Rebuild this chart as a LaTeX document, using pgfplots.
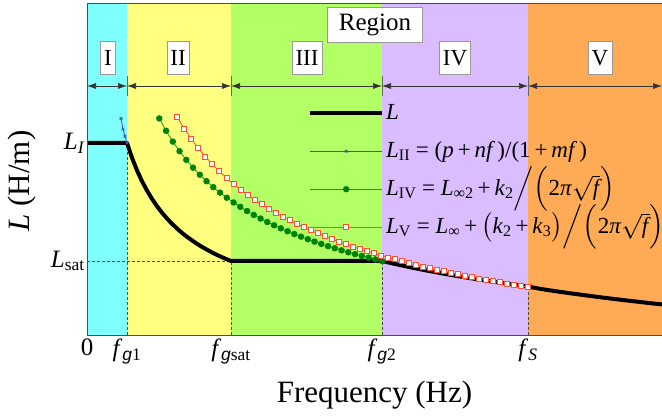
\documentclass[border=0pt]{standalone}
\usepackage{amsmath}
\usepackage{fontspec}
\setmainfont{Liberation Serif}
\newfontfamily\arialfont{Liberation Sans}
\usepackage{pgfplots}
\pgfplotsset{compat=1.18}
\usetikzlibrary{arrows.meta}
\definecolor{rI}{RGB}{128,255,255}
\definecolor{rII}{RGB}{255,255,128}
\definecolor{rIII}{RGB}{178,255,102}
\definecolor{rIV}{RGB}{217,189,255}
\definecolor{rV}{RGB}{255,170,85}
\definecolor{dgreen}{RGB}{0,130,0}
\definecolor{lgreen}{RGB}{0,170,0}
\definecolor{lred}{RGB}{255,80,50}
\definecolor{lblue}{RGB}{60,80,200}
\newcommand{\gsub}{{\arialfont\itshape g}}
\newcommand{\ti}[1]{\textit{#1}}
\newcommand{\sub}[1]{\textsubscript{#1}}
\newcommand{\sqf}{$\sqrt{\text{\itshape f\hspace{0.05em}}}$}
\newcommand{\pl}{\hspace{0.17em}+\hspace{0.17em}}
\newcommand{\eq}{\hspace{0.25em}=\hspace{0.25em}}
\tikzset{regarrow/.style={black!80, line width=0.6bp, {Latex[length=9bp,width=6bp]}-{Latex[length=9bp,width=6bp]}},
  regtick/.style={black!60, line width=0.6bp},
  regbox/.style={draw=black!40, fill=white, inner sep=3.5bp, minimum height=33bp, font=\fontsize{23bp}{25bp}\selectfont}}
\begin{document}
\begin{tikzpicture}
\useasboundingbox (0,0) rectangle (662bp,418bp);
\begin{axis}[
  at={(87bp,83bp)}, anchor=south west,
  scale only axis, width=575bp, height=332bp,
  xmin=0, xmax=575, ymin=0, ymax=332,
  axis line style={draw=black!70, line width=0.8bp},
  axis on top,
  xtick={0,40,144,295,441},
  xticklabels={0,\ti{f}\sub{\gsub 1},\ti{f}\sub{\gsub sat},\ti{f}\sub{\gsub 2},\ti{f}\sub{\ti{S}}},
  ytick={74,192},
  yticklabels={\ti{L}\sub{sat},\ti{L}\sub{\ti{I}}},
  major tick length=0pt,
  tick label style={font=\fontsize{25bp}{27bp}\selectfont},
  yticklabel style={inner sep=2bp},
  xticklabel style={inner sep=4bp},
  xlabel={Frequency (Hz)},
  ylabel={\ti{L} (H/m)},
  label style={font=\fontsize{31bp}{33bp}\selectfont},
  xlabel style={at={(axis description cs:0.5,-0.18)}, anchor=center},
  ylabel style={at={(axis description cs:-0.113,0.464)}, anchor=center},
  legend image code/.code={\draw[mark repeat=2,mark phase=2] plot coordinates {(0bp,4bp)(36bp,4bp)(72bp,4bp)};},
  legend cell align=left,
  legend style={at={(axis cs:221,237)}, anchor=north west, draw=none, fill=none,
    inner sep=0pt, column sep=2bp,
    font=\fontsize{23bp}{25bp}\selectfont,
    nodes={inner sep=0pt, text height=21bp, text depth=17bp}},
]
% region backgrounds
\addplot[fill=rI, draw=none, forget plot] coordinates {(0,0)(40,0)(40,332)(0,332)(0,0)};
\addplot[fill=rII, draw=none, forget plot] coordinates {(40,0)(144,0)(144,332)(40,332)(40,0)};
\addplot[fill=rIII, draw=none, forget plot] coordinates {(144,0)(295,0)(295,332)(144,332)(144,0)};
\addplot[fill=rIV, draw=none, forget plot] coordinates {(295,0)(441,0)(441,332)(295,332)(295,0)};
\addplot[fill=rV, draw=none, forget plot] coordinates {(441,0)(575,0)(575,332)(441,332)(441,0)};
% dashed guide lines
\addplot[black!70, line width=0.6bp, dash pattern=on 3bp off 2bp, forget plot] coordinates {(40,0)(40,192)};
\addplot[black!70, line width=0.6bp, dash pattern=on 3bp off 2bp, forget plot] coordinates {(144,0)(144,74)};
\addplot[black!70, line width=0.6bp, dash pattern=on 3bp off 2bp, forget plot] coordinates {(295,0)(295,74)};
\addplot[black!70, line width=0.6bp, dash pattern=on 3bp off 2bp, forget plot] coordinates {(441,0)(441,48.5)};
\addplot[black!70, line width=0.6bp, dash pattern=on 3bp off 2bp, forget plot] coordinates {(0,74)(144,74)};
% L
\addplot[black, line width=4bp, line join=round, no marks] coordinates {
(0,192)(40,192)(45,177.2)(50,164.6)(55,153.8)(60,144.4)(65,136.1)(70,128.8)(75,122.3)
(80,116.5)(85,111.2)(90,106.5)(95,102.1)(100,98.2)(105,94.6)(110,91.2)(115,88.1)
(120,85.3)(125,82.6)(130,80.1)(135,77.8)(140,75.6)(144,74)
(295,74)(310,70.57)(325,67.38)(340,64.41)(355,61.63)(370,59.02)(385,56.57)(400,54.25)
(415,52.06)(430,49.99)(441,48.3)(460,45.06)(480,42.17)(500,39.46)(520,36.90)(540,34.49)
(560,32.21)(575,30.57)};
\addlegendentry{\ti{L}}
% L_II
\addplot[lblue, line width=0.8bp, mark=x, mark size=2bp] coordinates {
(34,216.5)(36,205.9)(38,198.7)(40,192)};
\addlegendentry{\ti{L}\sub{II}\eq(\ti{p}\pl\ti{nf}\hspace{0.1em})/(1\pl\ti{mf}\hspace{0.1em})}
% L_IV
\addplot[lgreen, line width=0.8bp, mark=*, mark size=2.8bp, mark options={fill=dgreen, draw=dgreen}] coordinates {
(72.3,216.57)(79.05,204.25)(85.8,193.41)(92.55,183.78)(99.3,175.14)(106.05,167.35)
(112.8,160.26)(119.55,153.79)(126.3,147.85)(133.05,142.35)(139.8,137.26)(146.55,132.53)
(153.3,128.12)(160.05,123.99)(166.8,120.11)(173.55,116.45)(180.3,113.01)(187.05,109.75)
(193.8,106.67)(200.55,103.74)(207.3,100.96)(214.05,98.31)(220.8,95.78)(227.55,93.37)
(234.3,91.06)(241.05,88.84)(247.8,86.72)(254.55,84.69)(261.3,82.73)(268.05,80.85)
(274.8,79.04)(281.55,77.29)(288.3,75.61)(295.05,73.98)};
\addlegendentry{\ti{L}\sub{IV}\eq\ti{L}\sub{∞2}\pl\ti{k}\sub{2}$\Big/\Big($2\ti{π}\sqf$\Big)$}
% L_V
\addplot[lred, line width=0.8bp, mark=square*, mark size=2.5bp, mark options={fill=white, draw=lred, line width=0.8bp}] coordinates {
(90.30,217.60)(97.31,206.23)(104.33,196.03)(111.34,186.80)(118.36,178.41)(125.37,170.73)
(132.38,163.67)(139.40,157.14)(146.41,151.11)(153.43,145.47)(160.44,140.22)(167.45,135.31)
(174.47,130.68)(181.48,126.33)(188.50,122.22)(195.51,118.34)(202.52,114.67)(209.54,111.18)
(216.55,107.86)(223.57,104.70)(230.58,101.68)(237.59,98.80)(244.61,96.04)(251.62,93.39)
(258.64,90.86)(265.65,88.43)(272.66,86.09)(279.68,83.84)(286.69,81.67)(293.71,79.58)
(300.72,77.57)(307.73,75.63)(314.75,73.74)(321.76,71.92)(328.78,70.16)(335.79,68.46)
(342.80,66.81)(349.82,65.21)(356.83,63.65)(363.85,62.14)(370.86,60.67)(377.87,59.25)
(384.89,57.86)(391.90,56.52)(398.92,55.20)(405.93,53.92)(412.94,52.67)(419.96,51.46)
(426.97,50.28)(433.99,49.12)(441.00,47.99)};
\addlegendentry{\ti{L}\sub{V}\eq\ti{L}\sub{∞}\pl$\big($\ti{k}\sub{2}\pl\ti{k}\sub{3}$\big)\Big/\Big($2\ti{π}\sqf$\Big)$}
% region arrows
\draw[regarrow] (axis cs:0,249) -- (axis cs:40,249);
\draw[regarrow] (axis cs:40,249) -- (axis cs:144,249);
\draw[regarrow] (axis cs:144,249) -- (axis cs:295,249);
\draw[regarrow] (axis cs:295,249) -- (axis cs:441,249);
\draw[regarrow] (axis cs:441,249) -- (axis cs:575,249);
\draw[regtick] (axis cs:40,239) -- (axis cs:40,259);
\draw[regtick] (axis cs:144,239) -- (axis cs:144,259);
\draw[regtick] (axis cs:295,239) -- (axis cs:295,259);
\draw[regtick] (axis cs:441,239) -- (axis cs:441,259);
\node[regbox] at (axis cs:21,277) {I};
\node[regbox] at (axis cs:91,277) {II};
\node[regbox] at (axis cs:220,277) {III};
\node[regbox] at (axis cs:368,277) {IV};
\node[regbox] at (axis cs:513,277) {V};
\node[draw=black!40, fill=white, minimum width=95bp, minimum height=35bp, font=\fontsize{25bp}{27bp}\selectfont] at (axis cs:288,310) {Region};
\end{axis}
\end{tikzpicture}
\end{document}
